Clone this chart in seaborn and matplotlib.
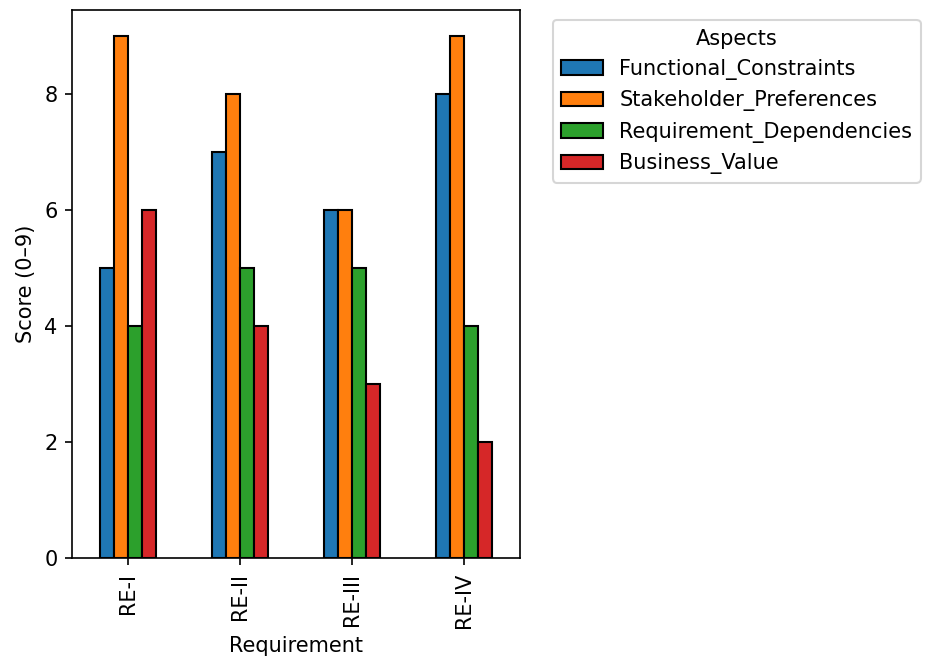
import matplotlib
matplotlib.use("Agg")
import matplotlib.pyplot as plt
import seaborn as sns
import pandas as pd

requirements = ["RE-I", "RE-II", "RE-III", "RE-IV"]
aspects = ["Functional_Constraints", "Stakeholder_Preferences",
           "Requirement_Dependencies", "Business_Value"]
functional_constraints = [5, 7, 6, 8]
stakeholder_preferences = [9, 8, 6, 9]
requirement_dependencies = [4, 5, 5, 4]
business_value = [6, 4, 3, 2]

series = [functional_constraints, stakeholder_preferences,
          requirement_dependencies, business_value]
rows = []
for asp, vals in zip(aspects, series):
    for req, v in zip(requirements, vals):
        rows.append({"Requirement": req, "Aspect": asp, "Score": v})
df = pd.DataFrame(rows)

DPI = 150
fig = plt.figure(figsize=(925 / DPI, 659 / DPI), dpi=DPI)
ax = fig.add_axes([0.078, 0.153, 0.484, 0.832])
palette = ["#1f77b4", "#ff7f0e", "#2ca02c", "#d62728"]
sns.barplot(data=df, x="Requirement", y="Score", hue="Aspect",
            order=requirements, hue_order=aspects, palette=palette,
            width=0.5, gap=0, edgecolor="black", linewidth=1.0,
            saturation=1, ax=ax)
ax.set_xlim(-0.5, 3.5)
ax.set_ylim(0, 9.45)
ax.set_ylabel("Score (0\u20139)")
ax.set_xlabel("Requirement")
ax.set_yticks([0, 2, 4, 6, 8])
plt.setp(ax.get_xticklabels(), rotation=90)
ax.legend(title="Aspects", bbox_to_anchor=(1.05, 1), loc="upper left")
fig.savefig("out.png", dpi=DPI)
